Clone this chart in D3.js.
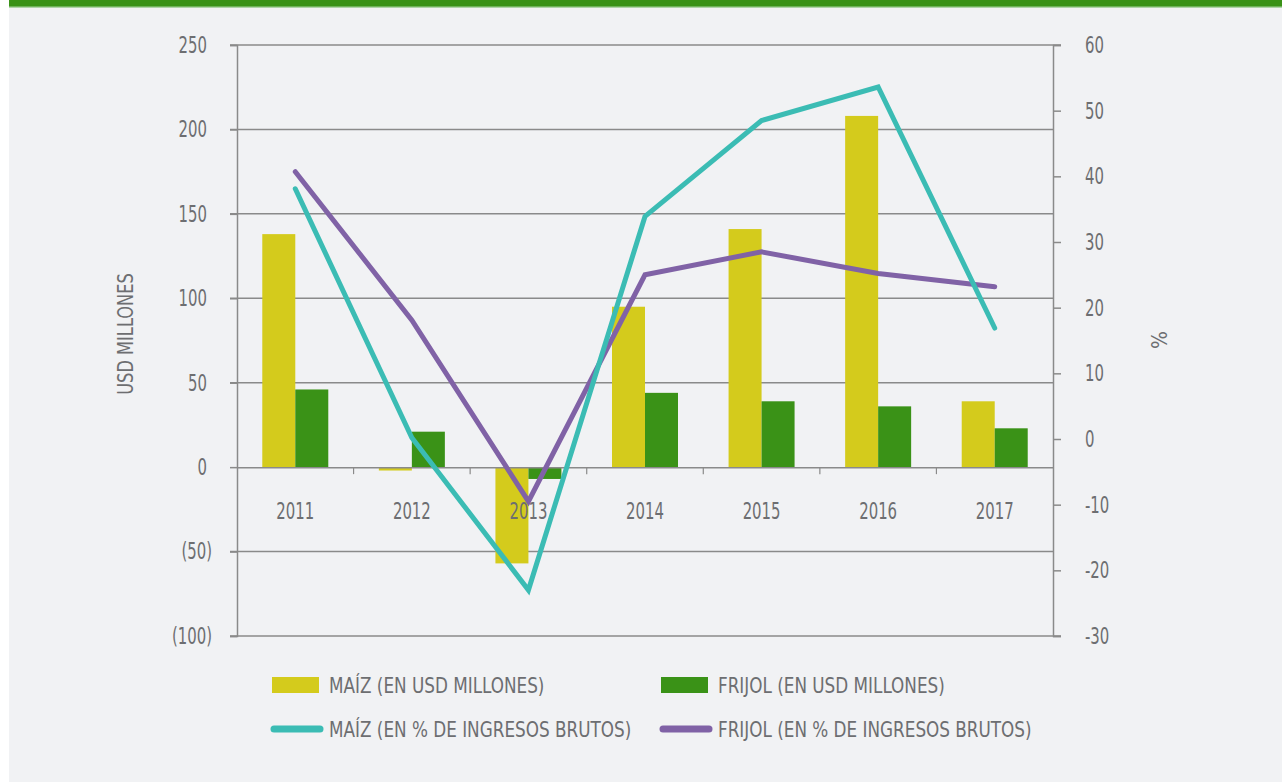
<!DOCTYPE html>
<html>
<head>
<meta charset="utf-8">
<script src="https://cdn.jsdelivr.net/npm/d3@7"></script>
<style>
  body { margin: 0; background: #ffffff; }
  svg text { font-family: "DejaVu Sans Condensed", "DejaVu Sans", sans-serif; fill: #6d6e71; }
</style>
</head>
<body>
<div id="chart"></div>
<script>
// data
var years = ["2011", "2012", "2013", "2014", "2015", "2016", "2017"];
var maizUsd = [138, -2, -57, 95, 141, 208, 39];
var frijolUsd = [46, 21, -7, 44, 39, 36, 23];
var maizPct = [38.1, 0.2, -23, 33.9, 48.5, 53.6, 16.9];
var frijolPct = [40.7, 18.1, -9.5, 25, 28.5, 25.2, 23.2];
var leftTicks = [250, 200, 150, 100, 50, 0, -50, -100];
var rightTicks = [60, 50, 40, 30, 20, 10, 0, -10, -20, -30];

var svgWidth = 1282;
var svgHeight = 782;
var margin = { top: 45, left: 237, right: 229, bottom: 146 };
var width = svgWidth - margin.left - margin.right;
var height = svgHeight - margin.top - margin.bottom;

// squeeze text horizontally to mimic the condensed face of the original
function squeeze(sel, sx) {
  sel.each(function () {
    var t = d3.select(this);
    var xv = +(t.attr("x") || 0);
    t.attr("x", xv / sx).attr("transform", `scale(${sx},1)`);
  });
}

var svg = d3.select("#chart")
  .append("svg")
  .attr("width", svgWidth)
  .attr("height", svgHeight);

// background panel + top band
svg.append("rect").attr("x", 9).attr("y", 0).attr("width", svgWidth - 9).attr("height", svgHeight).attr("fill", "#f1f2f4");
svg.append("rect").attr("x", 9).attr("y", 0).attr("width", svgWidth - 9).attr("height", 6).attr("fill", "#3a9217");
svg.append("rect").attr("x", 9).attr("y", 6).attr("width", svgWidth - 9).attr("height", 1.5).attr("fill", "#6fb35a");

var chartGroup = svg.append("g")
  .attr("transform", `translate(${margin.left}, ${margin.top})`);

var x = d3.scaleBand().domain(years).range([0, width]).paddingInner(0).paddingOuter(0);
var yLeft = d3.scaleLinear().domain([-100, 250]).range([height, 0]);
var yRight = d3.scaleLinear().domain([-30, 60]).range([height, 0]);

var barW = 33;

// gridlines (left ticks, except zero which is the x axis)
chartGroup.append("g")
  .selectAll("line")
  .data(leftTicks.filter(d => d !== 0))
  .enter()
  .append("line")
  .attr("x1", -7)
  .attr("x2", d => (d === 250 || d === -100) ? width + 8 : width)
  .attr("y1", d => yLeft(d))
  .attr("y2", d => yLeft(d))
  .attr("stroke", "#8a8a8a")
  .attr("stroke-width", 1.5);

// bars
chartGroup.append("g")
  .selectAll("rect")
  .data(years)
  .enter()
  .append("rect")
  .attr("x", d => x(d) + x.bandwidth() / 2 - barW)
  .attr("y", (d, i) => yLeft(Math.max(0, maizUsd[i])))
  .attr("width", barW)
  .attr("height", (d, i) => Math.abs(yLeft(maizUsd[i]) - yLeft(0)))
  .attr("fill", "#d4cb1c");

chartGroup.append("g")
  .selectAll("rect")
  .data(years)
  .enter()
  .append("rect")
  .attr("x", d => x(d) + x.bandwidth() / 2)
  .attr("y", (d, i) => yLeft(Math.max(0, frijolUsd[i])))
  .attr("width", barW)
  .attr("height", (d, i) => Math.abs(yLeft(frijolUsd[i]) - yLeft(0)))
  .attr("fill", "#3a9217");

// left axis
var leftAxis = d3.axisLeft(yLeft)
  .tickValues(leftTicks)
  .tickSize(7)
  .tickPadding(23)
  .tickFormat(d => d < 0 ? `(${-d})` : d);
var yAxisL = chartGroup.append("g").call(leftAxis);
yAxisL.select(".domain").attr("stroke", "#8a8a8a").attr("stroke-width", 1.5);
yAxisL.selectAll(".tick line").attr("stroke", "#8a8a8a").attr("stroke-width", 1.5);
yAxisL.selectAll("text")
  .style("font-size", "23px")
  .attr("fill", "#6d6e71")
  .attr("x", d => d < 0 ? -25 : -30);
squeeze(yAxisL.selectAll("text"), 0.72);

// right axis
var rightAxis = d3.axisRight(yRight)
  .tickValues(rightTicks)
  .tickSize(8)
  .tickPadding(24)
  .tickFormat(d => String(d));
var yAxisR = chartGroup.append("g")
  .attr("transform", `translate(${width}, 0)`)
  .call(rightAxis);
yAxisR.select(".domain").attr("stroke", "#8a8a8a").attr("stroke-width", 1.5);
yAxisR.selectAll(".tick line").attr("stroke", "#8a8a8a").attr("stroke-width", 1.5);
yAxisR.selectAll("text").style("font-size", "23px").attr("fill", "#6d6e71");
squeeze(yAxisR.selectAll("text"), 0.72);

// x axis at zero
var bottomAxis = d3.axisBottom(x).tickSize(0).tickPadding(36);
var xAxis = chartGroup.append("g")
  .attr("transform", `translate(0, ${yLeft(0)})`)
  .call(bottomAxis);
xAxis.select(".domain").attr("stroke", "#8a8a8a").attr("stroke-width", 1.5);
xAxis.selectAll("text").style("font-size", "23px").attr("fill", "#6d6e71");
squeeze(xAxis.selectAll("text"), 0.72);
xAxis.selectAll(".sep")
  .data(years.slice(1))
  .enter()
  .append("line")
  .attr("x1", d => x(d))
  .attr("x2", d => x(d))
  .attr("y1", 0)
  .attr("y2", 7)
  .attr("stroke", "#8a8a8a")
  .attr("stroke-width", 1.2);

// lines
var line = function (vals) {
  return d3.line()
    .x((d, i) => x(years[i]) + x.bandwidth() / 2)
    .y(d => yRight(d))(vals);
};
chartGroup.append("path")
  .attr("d", line(frijolPct))
  .attr("fill", "none")
  .attr("stroke", "#8062a6")
  .attr("stroke-width", 5)
  .attr("stroke-linecap", "round");
chartGroup.append("path")
  .attr("d", line(maizPct))
  .attr("fill", "none")
  .attr("stroke", "#3bbcb4")
  .attr("stroke-width", 5)
  .attr("stroke-linecap", "round");

// axis titles
svg.append("text")
  .attr("transform", "translate(133, 334) rotate(-90) scale(0.86,1)")
  .attr("text-anchor", "middle")
  .style("font-size", "21px")
  .text("USD MILLONES");
svg.append("text")
  .attr("transform", "translate(1151, 340) rotate(90)")
  .attr("text-anchor", "middle")
  .style("font-size", "21px")
  .text("%");

// legend
var legendItems = [
  { label: "MAÍZ (EN USD MILLONES)", color: "#d4cb1c", type: "bar", x: 272, y: 685 },
  { label: "FRIJOL (EN USD MILLONES)", color: "#3a9217", type: "bar", x: 661, y: 685 },
  { label: "MAÍZ (EN % DE INGRESOS BRUTOS)", color: "#3bbcb4", type: "line", x: 272, y: 729 },
  { label: "FRIJOL (EN % DE INGRESOS BRUTOS)", color: "#8062a6", type: "line", x: 661, y: 729 }
];
var legend = svg.append("g");
legendItems.forEach(function (d) {
  if (d.type === "bar") {
    legend.append("rect")
      .attr("x", d.x).attr("y", d.y - 8)
      .attr("width", 47).attr("height", 16)
      .attr("fill", d.color);
  } else {
    legend.append("line")
      .attr("x1", d.x + 2).attr("x2", d.x + 48)
      .attr("y1", d.y).attr("y2", d.y)
      .attr("stroke", d.color)
      .attr("stroke-width", 7)
      .attr("stroke-linecap", "round");
  }
  var t = legend.append("text")
    .attr("x", d.x + 57)
    .attr("y", d.y)
    .attr("dy", "0.36em")
    .style("font-size", "22px")
    .text(d.label);
  squeeze(t, 0.85);
});
</script>
</body>
</html>
